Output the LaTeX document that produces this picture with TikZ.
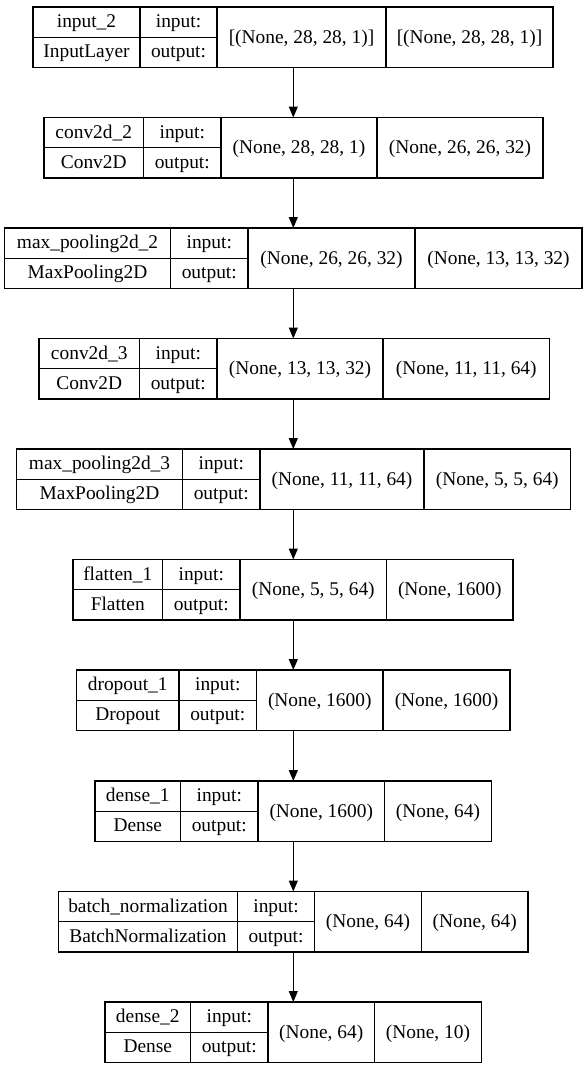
\documentclass[tikz,border=0pt]{standalone}
\usepackage{fontspec}
\setmainfont{Liberation Serif}
\usetikzlibrary{arrows.meta}
\newcommand{\cols}[5]{\def\cxa{#1}\def\cxb{#2}\def\cxc{#3}\def\cxd{#4}\def\cxe{#5}}
\newcommand{\rowh}{60.5}
\newcommand{\layerrow}[6]{%
  \pgfmathsetmacro{\rw}{\cxe-\cxa}%
  \node[box, minimum width=\rw pt, minimum height=\rowh pt, anchor=north west] (#1) at (\cxa,#2) {};
  \draw[divline] (\cxb,#2) -- ++(0,\rowh);
  \draw[divline] (\cxc,#2) -- ++(0,\rowh);
  \draw[divline] (\cxd,#2) -- ++(0,\rowh);
  \draw[divline] (\cxa,#2+30.25) -- (\cxc,#2+30.25);
  \node[txt] (#1-name) at ({(\cxa+\cxb)/2},#2+20.5) {#3};
  \node[txt] (#1-class) at ({(\cxa+\cxb)/2},#2+50.5) {#4};
  \node[txt] (#1-inl) at ({(\cxb+\cxc)/2},#2+20.5) {input:};
  \node[txt] (#1-outl) at ({(\cxb+\cxc)/2},#2+50.5) {output:};
  \node[txt] (#1-in) at ({(\cxc+\cxd)/2},#2+36) {#5};
  \node[txt] (#1-out) at ({(\cxd+\cxe)/2},#2+36) {#6};
}
\begin{document}
\begin{tikzpicture}[x=1pt,y=-1pt,
  box/.style={draw=black, line width=1.1pt, inner sep=0pt, outer sep=0pt},
  divline/.style={draw=black, line width=1.1pt},
  txt/.style={anchor=base, inner sep=0pt, font=\fontsize{19.4}{23}\selectfont},
  arr/.style={draw=black, line width=1.1pt, -{Triangle[length=11pt,width=9pt]}}]
\useasboundingbox[fill=white] (0,0) rectangle (587,1069);
\coordinate (ax) at (293.3,0);
\cols{33}{140}{217}{386}{553}
\layerrow{r1}{7}{input\_2}{InputLayer}{[(None, 28, 28, 1)]}{[(None, 28, 28, 1)]}
\cols{44}{143.5}{221}{377}{543}
\layerrow{r2}{117.5}{conv2d\_2}{Conv2D}{(None, 28, 28, 1)}{(None, 26, 26, 32)}
\cols{4.5}{170.5}{248}{415}{582}
\layerrow{r3}{228}{max\_pooling2d\_2}{MaxPooling2D}{(None, 26, 26, 32)}{(None, 13, 13, 32)}
\cols{39}{139.5}{217}{383}{549.5}
\layerrow{r4}{338.5}{conv2d\_3}{Conv2D}{(None, 13, 13, 32)}{(None, 11, 11, 64)}
\cols{16.5}{182.5}{260}{424}{570.5}
\layerrow{r5}{449}{max\_pooling2d\_3}{MaxPooling2D}{(None, 11, 11, 64)}{(None, 5, 5, 64)}
\cols{73}{162.5}{240}{386.5}{513}
\layerrow{r6}{559.5}{flatten\_1}{Flatten}{(None, 5, 5, 64)}{(None, 1600)}
\cols{76.5}{179}{256.5}{383}{510}
\layerrow{r7}{670}{dropout\_1}{Dropout}{(None, 1600)}{(None, 1600)}
\cols{95}{180.5}{258}{384.5}{491.5}
\layerrow{r8}{781}{dense\_1}{Dense}{(None, 1600)}{(None, 64)}
\cols{58.5}{237.5}{314.5}{421.5}{528}
\layerrow{r9}{891.5}{batch\_normalization}{BatchNormalization}{(None, 64)}{(None, 64)}
\cols{105}{190.5}{268}{374.5}{481.5}
\layerrow{r10}{1002}{dense\_2}{Dense}{(None, 64)}{(None, 10)}
\foreach \a/\b in {r1/r2,r2/r3,r3/r4,r4/r5,r5/r6,r6/r7,r7/r8,r8/r9,r9/r10}
  \draw[arr] (\a.south -| ax) -- (\b.north -| ax);
\end{tikzpicture}
\end{document}
